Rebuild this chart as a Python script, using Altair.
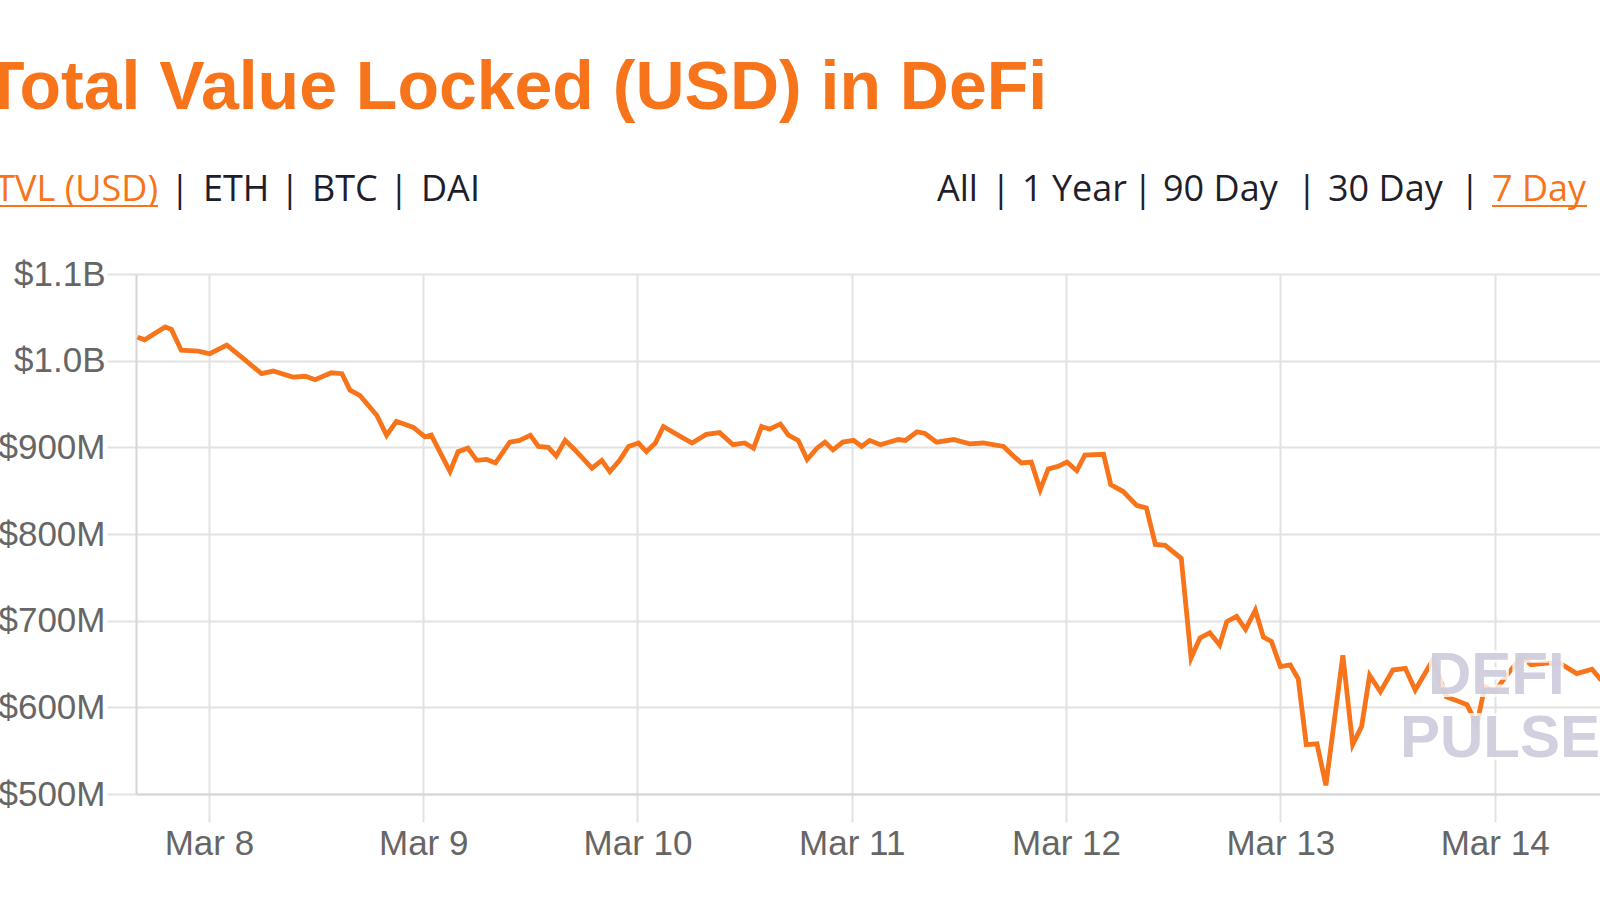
import altair as alt
import pandas as pd

# ---- data (hours after 2020-03-08 00:00, TVL in $M) ----
hours = [-8.0, -7.2, -4.9, -4.2, -3.1, -1.2, 0.1, 2.0, 3.8, 5.9,
         7.2, 9.4, 10.8, 11.9, 13.7, 14.9, 15.8, 16.9, 18.8, 19.9,
         21.0, 22.9, 24.2, 24.9, 27.0, 27.9, 29.0, 30.0, 31.1, 32.1,
         33.7, 34.8, 36.0, 36.9, 38.0, 38.9, 39.9, 41.0, 42.9, 44.0,
         44.9, 46.0, 47.0, 48.1, 49.0, 50.0, 50.9, 52.4, 54.1, 55.7,
         57.2, 58.7, 60.0, 61.0, 61.9, 62.8, 64.0, 64.9, 66.0, 67.0,
         68.1, 69.0, 69.9, 71.0, 72.2, 73.1, 74.0, 75.2, 77.2, 78.0,
         79.3, 80.2, 81.5, 83.4, 85.2, 86.7, 89.0, 90.1, 91.0, 92.1,
         93.1, 94.0, 95.1, 96.1, 97.2, 98.1, 100.2, 101.0, 102.4, 103.9,
         105.0, 106.0, 107.1, 108.9, 110.0, 111.0, 112.1, 113.2, 114.0, 115.1,
         116.1, 117.2, 118.1, 119.0, 120.0, 121.1, 122.0, 122.9, 124.1, 125.1,
         127.0, 128.1, 129.1, 130.0, 131.2, 132.6, 134.0, 135.1, 137.1, 138.6,
         139.7, 140.9, 142.0, 142.9, 144.0, 145.5, 147.0, 148.1, 149.8, 151.3,
         153.2, 154.9, 155.8, 157.0]
tvl_musd = [1027, 1024, 1039, 1036, 1012, 1011, 1008, 1018, 1003, 985,
            988, 981, 982, 978, 986, 985, 966, 960, 937, 914,
            930, 923, 912, 914, 872, 895, 899, 885, 886, 882,
            906, 908, 914, 901, 900, 890, 908, 897, 876, 885,
            872, 885, 901, 905, 895, 905, 924, 915, 905, 915,
            917, 903, 905, 899, 924, 921, 927, 914, 908, 886,
            899, 906, 897, 906, 908, 901, 908, 903, 909, 908,
            918, 916, 906, 909, 904, 905, 901, 890, 882, 883,
            851, 875, 878, 883, 873, 891, 892, 857, 849, 833,
            830, 788, 787, 772, 657, 680, 686, 672, 699, 705,
            690, 712, 681, 676, 647, 649, 633, 557, 558, 510,
            660, 557, 578, 637, 618, 643, 645, 620, 655, 612,
            608, 603, 580, 624, 618, 639, 658, 649, 651, 651,
            639, 644, 633, 640]
y_ticks = [500, 600, 700, 800, 900, 1000, 1100]
x_tick_days = [8, 9, 10, 11, 12, 13, 14]

title_text = "Total Value Locked (USD) in DeFi"
tabs_left = ["TVL (USD)", "ETH", "BTC", "DAI"]
tabs_right = ["All", "1 Year", "90 Day", "30 Day", "7 Day"]
watermark = ["DEFI", "PULSE"]

df = pd.DataFrame({
    "time": pd.Timestamp("2020-03-08") + pd.to_timedelta(hours, unit="h"),
    "tvl": tvl_musd,
})

ORANGE = "#F8741A"
GRID = "#e2e2e2"
OX, OY = 136, 274  # plot origin on the page

line = alt.Chart(df).mark_line(color=ORANGE, strokeWidth=4.8, clip=True).encode(
    x=alt.X(
        "time:T",
        scale=alt.Scale(domain=[
            alt.DateTime(year=2020, month=3, date=7, hours=15, minutes=50),
            alt.DateTime(year=2020, month=3, date=14, hours=11, minutes=48),
        ]),
        axis=alt.Axis(
            title=None, format="%b %-d",
            values=[alt.DateTime(year=2020, month=3, date=d) for d in x_tick_days],
            tickSize=28, labelPadding=4,
        ),
    ),
    y=alt.Y(
        "tvl:Q",
        scale=alt.Scale(domain=[500, 1100], nice=False, zero=False),
        axis=alt.Axis(
            title=None, values=y_ticks, tickSize=29, labelPadding=2,
            labelExpr="datum.value >= 1000 ? '$' + format(datum.value / 1000, '.1f') + 'B' : '$' + format(datum.value, 'd') + 'M'",
        ),
    ),
)


def txt(s, x, y, size, color, weight="normal", align="left", font="Open Sans", **kw):
    return alt.Chart(pd.DataFrame({"label": [s]})).mark_text(
        align=align, baseline="alphabetic", fontSize=size, fontWeight=weight,
        color=color, font=font, **kw
    ).encode(x=alt.value(x - OX), y=alt.value(y - OY), text="label:N")


def hrule(x1, x2, y, color):
    return alt.Chart(pd.DataFrame({"a": [0]})).mark_rule(color=color, strokeWidth=2).encode(
        x=alt.value(x1 - OX), x2=alt.value(x2 - OX), y=alt.value(y - OY)
    )


DARK = "#1f1f2b"
TAB = 36
layers = [line]
layers.append(txt(title_text, -17, 109, 68, ORANGE, weight="bold", font="Liberation Sans"))
# left tabs
layers.append(txt(tabs_left[0], 158, 201, TAB, ORANGE, align="right"))
layers.append(hrule(0, 158, 206, ORANGE))
layers.append(txt("|", 180, 201, TAB, DARK, align="center"))
layers.append(txt(tabs_left[1], 203, 201, TAB, DARK))
layers.append(txt("|", 290, 201, TAB, DARK, align="center"))
layers.append(txt(tabs_left[2], 312, 201, TAB, DARK))
layers.append(txt("|", 399, 201, TAB, DARK, align="center"))
layers.append(txt(tabs_left[3], 421, 201, TAB, DARK))
# right tabs
layers.append(txt(tabs_right[0], 937, 201, TAB, DARK))
layers.append(txt("|", 1001, 201, TAB, DARK, align="center"))
layers.append(txt(tabs_right[1], 1022, 201, TAB, DARK))
layers.append(txt("|", 1143, 201, TAB, DARK, align="center"))
layers.append(txt(tabs_right[2], 1163, 201, TAB, DARK))
layers.append(txt("|", 1307, 201, TAB, DARK, align="center"))
layers.append(txt(tabs_right[3], 1328, 201, TAB, DARK))
layers.append(txt("|", 1470, 201, TAB, DARK, align="center"))
layers.append(txt(tabs_right[4], 1492, 201, TAB, ORANGE))
layers.append(hrule(1492, 1587, 206, ORANGE))
# watermark
for s, x, y in [(watermark[0], 1428, 694), (watermark[1], 1400, 757)]:
    layers.append(txt(s, x, y, 60, "#ffffff", weight="bold", font="Liberation Sans",
                      stroke="#ffffff", strokeWidth=6, opacity=0.8))
    layers.append(txt(s, x, y, 60, "#cbc7da", weight="bold", font="Liberation Sans", opacity=0.85))

chart = alt.layer(*layers).properties(
    width=1600 - OX,
    height=520,
    padding={"left": OX, "top": OY, "right": 0, "bottom": 88},
    autosize="none",
    background="white",
).configure_view(stroke=None).configure_axis(
    grid=True, gridColor=GRID, gridWidth=2,
    tickColor=GRID, tickWidth=2,
    domainColor="#d6d6d6", domainWidth=2,
    labelFont="Liberation Sans", labelFontSize=35, labelColor="#666666",
)

chart.save("out.html", embed_options={"renderer": "svg", "actions": False})
